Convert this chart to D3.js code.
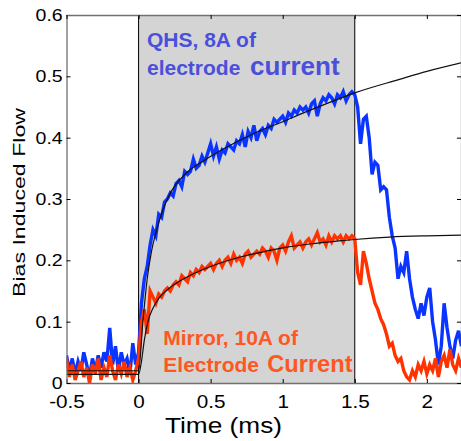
<!DOCTYPE html>
<html>
<head>
<meta charset="utf-8">
<script src="https://cdn.jsdelivr.net/npm/d3@7"></script>
<style>
  body { margin: 0; background: #fff; }
  svg { display: block; font-family: "Liberation Sans", Arial, sans-serif; }
</style>
</head>
<body>
<div id="chart"></div>
<script>
// Sample grid of the measured traces (ms)
const tStart = -0.5;
const tStep = 0.02;

// QHS, 8A of electrode current (blue trace)
const qhsFlow = [
  0.045, 0.02, 0.04, 0.015, 0.035, 0.02, 0.05, 0.03, 0.01, 0.04,
  0.02, 0.045, 0.025, 0.05, 0.035, 0.09, 0.03, 0.06, 0.02, 0.05,
  0.03, 0.04, 0.015, 0.065, 0.03, 0.05, 0.13, 0.17, 0.19, 0.225,
  0.25, 0.24, 0.275, 0.27, 0.295, 0.30, 0.31, 0.305, 0.325, 0.33,
  0.32, 0.345, 0.34, 0.345, 0.365, 0.35, 0.355, 0.37, 0.36, 0.375,
  0.39, 0.37, 0.385, 0.365, 0.38, 0.375, 0.39, 0.385, 0.38, 0.395,
  0.39, 0.405, 0.385, 0.41, 0.40, 0.42, 0.395, 0.41, 0.415, 0.405,
  0.42, 0.415, 0.43, 0.425, 0.43, 0.435, 0.425, 0.44, 0.435, 0.445,
  0.44, 0.45, 0.445, 0.45, 0.44, 0.455, 0.46, 0.435, 0.455, 0.465,
  0.46, 0.47, 0.465, 0.455, 0.47, 0.465, 0.475, 0.46, 0.47, 0.475,
  0.47, 0.45, 0.39, 0.43, 0.435, 0.40, 0.34, 0.36, 0.355, 0.315,
  0.32, 0.315, 0.27, 0.24, 0.22, 0.17, 0.19, 0.18, 0.215, 0.17,
  0.14, 0.12, 0.105, 0.13, 0.11, 0.14, 0.155, 0.10, 0.07, 0.03,
  0.06, 0.13, 0.09, 0.06, 0.04, 0.07, 0.085, 0.06
];

// Mirror, 10A of electrode current (red trace)
const mirrorFlow = [
  0.04, 0.01, 0.03, 0.005, 0.02, 0.035, 0.01, 0.025, 0.0, 0.03,
  0.015, 0.04, 0.005, 0.025, 0.01, 0.045, 0.02, 0.005, 0.03, 0.015,
  0.035, 0.01, 0.025, 0.005, 0.02, 0.04, 0.10, 0.12, 0.08, 0.15,
  0.14, 0.13, 0.145, 0.14, 0.15, 0.155, 0.15, 0.16, 0.165, 0.16,
  0.175, 0.17, 0.165, 0.18, 0.175, 0.185, 0.18, 0.19, 0.185, 0.19,
  0.195, 0.185, 0.195, 0.20, 0.19, 0.20, 0.205, 0.195, 0.21, 0.20,
  0.205, 0.195, 0.21, 0.215, 0.205, 0.21, 0.215, 0.21, 0.22, 0.215,
  0.205, 0.22, 0.215, 0.20, 0.22, 0.225, 0.215, 0.23, 0.24, 0.22,
  0.225, 0.23, 0.22, 0.23, 0.235, 0.225, 0.235, 0.245, 0.23, 0.235,
  0.225, 0.24, 0.23, 0.24, 0.235, 0.24, 0.23, 0.24, 0.235, 0.24,
  0.235, 0.18, 0.16, 0.215, 0.195, 0.17, 0.15, 0.13, 0.12, 0.105,
  0.095, 0.08, 0.06, 0.065, 0.045, 0.035, 0.04, 0.02, 0.01, 0.005,
  0.02, 0.01, 0.03, 0.02, 0.035, 0.015, 0.03, 0.02, 0.04, 0.01,
  0.035, 0.045, 0.025, 0.055, 0.03, 0.02, 0.04, 0.025
];

// Fitted curves (black)
const qhsFitT = [-0.5, 0, 0.03, 0.06, 0.09, 0.12, 0.17, 0.21, 0.33, 0.45, 0.6, 0.83, 1.0, 1.14, 1.3, 1.5, 1.81, 2.0, 2.24];
const qhsFitV = [0.02, 0.02, 0.10, 0.17, 0.215, 0.245, 0.283, 0.305, 0.342, 0.362, 0.383, 0.41, 0.426, 0.44, 0.455, 0.473, 0.495, 0.508, 0.522];
const mirrorFitT = [-0.5, 0, 0.02, 0.04, 0.065, 0.1, 0.14, 0.2, 0.33, 0.5, 0.67, 0.85, 1.02, 1.2, 1.41, 1.5, 1.74, 2.0, 2.24];
const mirrorFitV = [0.014, 0.014, 0.035, 0.07, 0.1, 0.122, 0.138, 0.152, 0.172, 0.19, 0.203, 0.213, 0.221, 0.227, 0.232, 0.234, 0.238, 0.24, 0.241];

const biasWindow = [0, 1.5];
const xTicks = [-0.5, 0, 0.5, 1, 1.5, 2];
const yTicks = [0, 0.1, 0.2, 0.3, 0.4, 0.5, 0.6];

const width = 461;
const height = 441;
const margin = { top: 15, right: 0, bottom: 58, left: 66.5 };

const svg = d3.select('#chart').append('svg')
  .attr('width', width)
  .attr('height', height);

const x = d3.scaleLinear()
  .domain([-0.5, 2.237])
  .range([margin.left, width]);

const y = d3.scaleLinear()
  .domain([0, 0.6])
  .range([height - margin.bottom, margin.top]);

svg.append('clipPath').attr('id', 'plot-clip')
  .append('rect')
  .attr('x', x.range()[0]).attr('y', y.range()[1])
  .attr('width', x.range()[1] - x.range()[0])
  .attr('height', y.range()[0] - y.range()[1]);

// Bias-on window
svg.append('rect')
  .attr('x', x(biasWindow[0]))
  .attr('y', y(0.6))
  .attr('width', x(biasWindow[1]) - x(biasWindow[0]))
  .attr('height', y(0) - y(0.6))
  .attr('fill', '#d4d4d4');

svg.selectAll('.edge')
  .data(biasWindow)
  .enter().append('line')
  .attr('class', 'edge')
  .attr('x1', d => x(d)).attr('x2', d => x(d))
  .attr('y1', y(0)).attr('y2', y(0.6))
  .attr('stroke', '#000')
  .attr('stroke-width', 1);

const plot = svg.append('g').attr('clip-path', 'url(#plot-clip)');

const trace = d3.line()
  .x((d, i) => x(tStart + i * tStep))
  .y(d => y(d));

plot.append('path')
  .datum(qhsFlow)
  .attr('d', trace)
  .attr('fill', 'none')
  .attr('stroke', '#0a34ff')
  .attr('stroke-width', 3.4)
  .attr('stroke-linejoin', 'miter');

plot.append('path')
  .datum(mirrorFlow)
  .attr('d', trace)
  .attr('fill', 'none')
  .attr('stroke', '#ff3300')
  .attr('stroke-width', 3.4)
  .attr('stroke-linejoin', 'miter');

const fit = d3.line()
  .x(d => x(d[0]))
  .y(d => y(d[1]))
  .curve(d3.curveMonotoneX);

[[qhsFitT, qhsFitV], [mirrorFitT, mirrorFitV]].forEach(([ts, vs]) => {
  plot.append('path')
    .datum(ts.map((t, i) => [t, vs[i]]))
    .attr('d', fit)
    .attr('fill', 'none')
    .attr('stroke', '#111')
    .attr('stroke-width', 1.2);
});

// Axes, MATLAB style: ticks pointing in, box all round
const styleAxis = g => {
  g.select('.domain').attr('stroke', '#707070').attr('stroke-width', 1.3);
  g.selectAll('.tick line').attr('stroke', '#000');
};
const plain = d => String(d);

svg.append('g')
  .attr('transform', `translate(0, ${y(0)})`)
  .call(d3.axisBottom(x).tickValues(xTicks).tickFormat(plain).tickSizeInner(-4).tickSizeOuter(0).tickPadding(12))
  .call(styleAxis)
  .call(g => g.selectAll('.tick text')
    .attr('font-size', 18).attr('font-family', '"Liberation Sans", Arial, sans-serif')
    .attr('fill', '#000').attr('transform', 'scale(1.15,1)'));

svg.append('g')
  .attr('transform', `translate(${x(-0.5)}, 0)`)
  .call(d3.axisLeft(y).tickValues(yTicks).tickFormat(plain).tickSizeInner(-4).tickSizeOuter(0).tickPadding(3.3))
  .call(styleAxis)
  .call(g => g.selectAll('.tick text')
    .attr('font-size', 17).attr('font-family', '"Liberation Sans", Arial, sans-serif')
    .attr('fill', '#000').attr('transform', 'scale(1.15,1)'));

svg.append('g')
  .attr('transform', `translate(0, ${y(0.6)})`)
  .call(d3.axisTop(x).tickValues(xTicks).tickFormat('').tickSizeInner(-4).tickSizeOuter(0))
  .call(styleAxis);

svg.append('g')
  .attr('transform', `translate(${width}, 0)`)
  .call(d3.axisRight(y).tickValues(yTicks).tickFormat('').tickSizeInner(-4).tickSizeOuter(0))
  .call(styleAxis);

// Axis titles
svg.append('text')
  .attr('x', 165).attr('y', 433)
  .attr('font-size', 22)
  .attr('textLength', 117)
  .attr('lengthAdjust', 'spacingAndGlyphs')
  .text('Time (ms)');

svg.append('text')
  .attr('transform', 'translate(25, 297) rotate(-90)')
  .attr('font-size', 17)
  .attr('textLength', 189)
  .attr('lengthAdjust', 'spacingAndGlyphs')
  .text('Bias Induced Flow');

// Annotations
const qhsNote = svg.append('g')
  .attr('font-weight', 'bold')
  .attr('fill', '#4a50da');
qhsNote.append('text').attr('x', 147).attr('y', 46.7).attr('font-size', 21).text('QHS, 8A of');
qhsNote.append('text').attr('x', 147).attr('y', 75).attr('font-size', 21).text('electrode');
qhsNote.append('text').attr('x', 250).attr('y', 75).attr('font-size', 26).text('current');

const mirrorNote = svg.append('g')
  .attr('font-weight', 'bold')
  .attr('fill', '#ff5722');
mirrorNote.append('text').attr('x', 163.3).attr('y', 345).attr('font-size', 21).text('Mirror, 10A of');
mirrorNote.append('text').attr('x', 163.3).attr('y', 371.7).attr('font-size', 21).text('Electrode');
mirrorNote.append('text').attr('x', 267.3).attr('y', 371.7).attr('font-size', 23.6).text('Current');
</script>
</body>
</html>
